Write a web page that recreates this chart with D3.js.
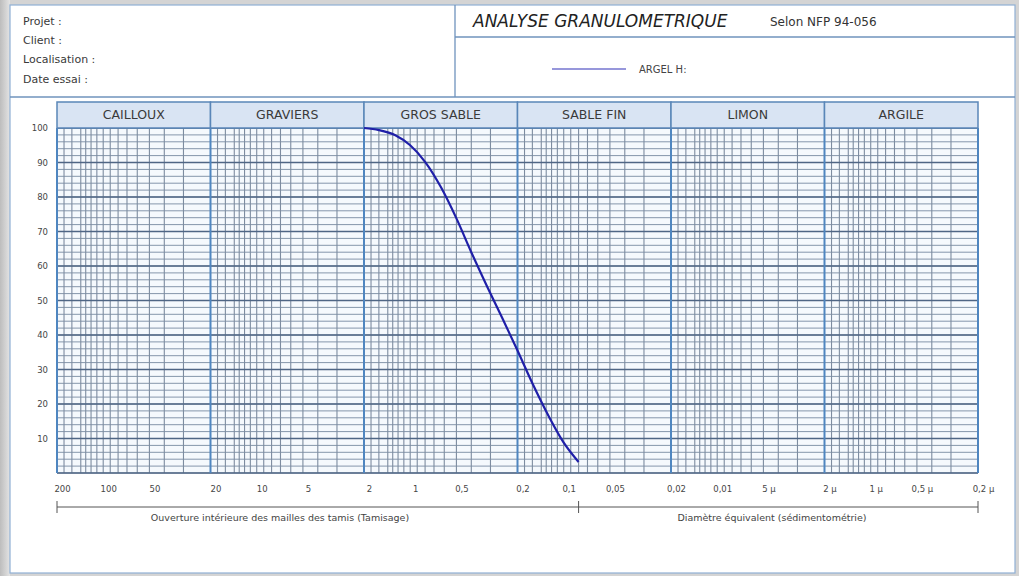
<!DOCTYPE html>
<html>
<head>
<meta charset="utf-8">
<script src="https://cdn.jsdelivr.net/npm/d3@7"></script>
<style>
  html, body { margin: 0; padding: 0; background: #cfcfcf; }
  svg { display: block; font-family: "DejaVu Sans", Verdana, sans-serif; }
</style>
</head>
<body>
<svg id="chart" width="1019" height="576"></svg>
<script>
// ---------- data ----------
const categories = ["CAILLOUX", "GRAVIERS", "GROS SABLE", "SABLE FIN", "LIMON", "ARGILE"];
const categoryBounds = [200, 20, 2, 0.2, 0.02, 0.002, 0.0002];
const xTickValues = [200, 100, 50, 20, 10, 5, 2, 1, 0.5, 0.2, 0.1, 0.05, 0.02, 0.01, 0.005, 0.002, 0.001, 0.0005, 0.0002];
const xTickLabels = ["200", "100", "50", "20", "10", "5", "2", "1", "0,5", "0,2", "0,1", "0,05", "0,02", "0,01", "5 µ", "2 µ", "1 µ", "0,5 µ", "0,2 µ"];
const yTickValues = [10, 20, 30, 40, 50, 60, 70, 80, 90, 100];
const sieveSizes = [2, 1.6, 1.25, 1, 0.8, 0.63, 0.5, 0.4, 0.315, 0.25, 0.2, 0.16, 0.125, 0.1, 0.08];
const passing = [100, 99.4, 97.9, 95, 90.2, 82.8, 73.8, 64, 54, 44.7, 35.5, 26, 16.4, 8.8, 3.2];
const sedimentBoundary = 0.08;
const headerLabels = ["Projet :", "Client :", "Localisation :", "Date essai :"];
const seriesName = "ARGEL H:";

// ---------- layout ----------
const svg = d3.select("#chart");
const W = 1019, H = 576;
const plot = { left: 57, right: 978, top: 128, bottom: 473 };

// background shadow + panel
const defs = svg.append("defs");
const g1 = defs.append("linearGradient").attr("id", "shadeL").attr("x1", 0).attr("x2", 1);
g1.append("stop").attr("offset", 0).attr("stop-color", "#bdbdbd");
g1.append("stop").attr("offset", 1).attr("stop-color", "#e4e4e4");
svg.append("rect").attr("width", W).attr("height", H).attr("fill", "#d4d4d4");
svg.append("rect").attr("x", 0).attr("y", 0).attr("width", 10).attr("height", H).attr("fill", "url(#shadeL)");
svg.append("rect").attr("x", 10).attr("y", 5).attr("width", 1005).attr("height", 568)
  .attr("fill", "#ffffff").attr("stroke", "#8fb0d4").attr("stroke-width", 1.2);

// header boxes
const hdr = svg.append("g").attr("stroke", "#6f93bd").attr("stroke-width", 1.3).attr("fill", "none");
hdr.append("line").attr("x1", 10).attr("x2", 1015).attr("y1", 97).attr("y2", 97);
hdr.append("line").attr("x1", 455).attr("x2", 455).attr("y1", 5).attr("y2", 97);
hdr.append("line").attr("x1", 455).attr("x2", 1015).attr("y1", 37).attr("y2", 37);

svg.append("g").selectAll("text").data(headerLabels).join("text")
  .attr("x", 23).attr("y", (d, i) => 21 + i * 19.3).attr("dy", "0.35em")
  .attr("font-size", 11).attr("fill", "#3a3a3a").text(d => d);

svg.append("text").attr("x", 473).attr("y", 21).attr("dy", "0.35em")
  .attr("font-size", 17).attr("font-style", "italic").attr("fill", "#222")
  .text("ANALYSE GRANULOMETRIQUE");
svg.append("text").attr("x", 770).attr("y", 22).attr("dy", "0.35em")
  .attr("font-size", 12).attr("fill", "#333").text("Selon NFP 94-056");

svg.append("line").attr("x1", 552).attr("x2", 626).attr("y1", 69).attr("y2", 69)
  .attr("stroke", "#7474cf").attr("stroke-width", 1.5);
svg.append("text").attr("x", 639).attr("y", 69).attr("dy", "0.35em")
  .attr("font-size", 10).attr("fill", "#444").text(seriesName);

// ---------- scales ----------
const x = d3.scaleLog().domain([200, 0.0002]).range([plot.left, plot.right]);
const y = d3.scaleLinear().domain([0, 100]).range([plot.bottom, plot.top]);

// grid values within each category decade [lo, 10 lo]
const upperSteps = [1.1, 1.2, 1.3, 1.4, 1.6, 1.8];
const minorX = [];
for (let i = 0; i < categoryBounds.length - 1; i++) {
  const lo = categoryBounds[i + 1];       // e.g. 20
  const unit = lo / 2;                    // e.g. 10
  for (let m = 3; m <= 10; m++) minorX.push(m * unit);
  upperSteps.forEach(s => minorX.push(unit * 10 * s));
}
const minorY = d3.range(0, 101, 2);

const gridG = svg.append("g");
gridG.append("rect").attr("x", plot.left).attr("y", plot.top)
  .attr("width", plot.right - plot.left).attr("height", plot.bottom - plot.top)
  .attr("fill", "#f5f9fd");

gridG.selectAll("line.hmin").data(minorY).join("line").attr("class", "hmin")
  .attr("x1", plot.left).attr("x2", plot.right)
  .attr("y1", d => y(d)).attr("y2", d => y(d))
  .attr("stroke", "#8596ab").attr("stroke-width", 1);
gridG.selectAll("line.vmin").data(minorX).join("line").attr("class", "vmin")
  .attr("x1", d => x(d)).attr("x2", d => x(d))
  .attr("y1", plot.top).attr("y2", plot.bottom)
  .attr("stroke", "#7d8ca0").attr("stroke-width", 1.1);
gridG.selectAll("line.hmaj").data([0].concat(yTickValues)).join("line").attr("class", "hmaj")
  .attr("x1", plot.left).attr("x2", plot.right)
  .attr("y1", d => y(d)).attr("y2", d => y(d))
  .attr("stroke", "#4f6685").attr("stroke-width", 1.5);
gridG.selectAll("line.vmaj").data(categoryBounds).join("line").attr("class", "vmaj")
  .attr("x1", d => x(d)).attr("x2", d => x(d))
  .attr("y1", plot.top).attr("y2", plot.bottom)
  .attr("stroke", "#4f86c0").attr("stroke-width", 2);

// category header band
const catG = svg.append("g");
const bands = categories.map((c, i) => ({ name: c, a: categoryBounds[i], b: categoryBounds[i + 1] }));
catG.selectAll("rect").data(bands).join("rect")
  .attr("x", d => x(d.a)).attr("y", 102)
  .attr("width", d => x(d.b) - x(d.a)).attr("height", plot.top - 102)
  .attr("fill", "#d9e4f3").attr("stroke", "#5a86b8").attr("stroke-width", 1.5);
catG.selectAll("text").data(bands).join("text")
  .attr("x", d => (x(d.a) + x(d.b)) / 2).attr("y", 115).attr("dy", "0.35em")
  .attr("text-anchor", "middle").attr("font-size", 12.5).attr("fill", "#3a3a3a")
  .text(d => d.name);

// axes
const xAxis = d3.axisBottom(x).tickValues(xTickValues)
  .tickFormat((d, i) => xTickLabels[i]).tickSize(0).tickPadding(0);
const xg = svg.append("g").attr("transform", `translate(5,${plot.bottom + 13})`).call(xAxis);
xg.select(".domain").remove();
xg.selectAll("text").attr("font-size", 8.5).attr("fill", "#454545")
  .attr("font-family", "DejaVu Sans, Verdana, sans-serif");

const yAxis = d3.axisLeft(y).tickValues(yTickValues).tickSize(0).tickPadding(0);
const yg = svg.append("g").attr("transform", `translate(${plot.left - 9},0)`).call(yAxis);
yg.select(".domain").remove();
yg.selectAll("text").attr("font-size", 8.5).attr("fill", "#454545")
  .attr("font-family", "DejaVu Sans, Verdana, sans-serif");

// bracket line below axis
const by = 507;
const br = svg.append("g").attr("stroke", "#555").attr("stroke-width", 1);
br.append("line").attr("x1", x(200)).attr("x2", x(0.0002)).attr("y1", by).attr("y2", by);
[200, sedimentBoundary, 0.0002].forEach(v => {
  br.append("line").attr("x1", x(v)).attr("x2", x(v)).attr("y1", by - 6).attr("y2", by + 6);
});
svg.append("text").attr("x", 280).attr("y", by + 11).attr("dy", "0.35em")
  .attr("text-anchor", "middle").attr("font-size", 9.5).attr("fill", "#444")
  .text("Ouverture intérieure des mailles des tamis (Tamisage)");
svg.append("text").attr("x", 772).attr("y", by + 11).attr("dy", "0.35em")
  .attr("text-anchor", "middle").attr("font-size", 9.5).attr("fill", "#444")
  .text("Diamètre équivalent (sédimentométrie)");

// curve
const pts = sieveSizes.map((s, i) => [x(s), y(passing[i])]).sort((a, b) => a[0] - b[0]);
svg.append("path").datum(pts)
  .attr("d", d3.line().curve(d3.curveMonotoneX))
  .attr("fill", "none").attr("stroke", "#1f1fa8").attr("stroke-width", 2.2);
</script>
</body>
</html>
